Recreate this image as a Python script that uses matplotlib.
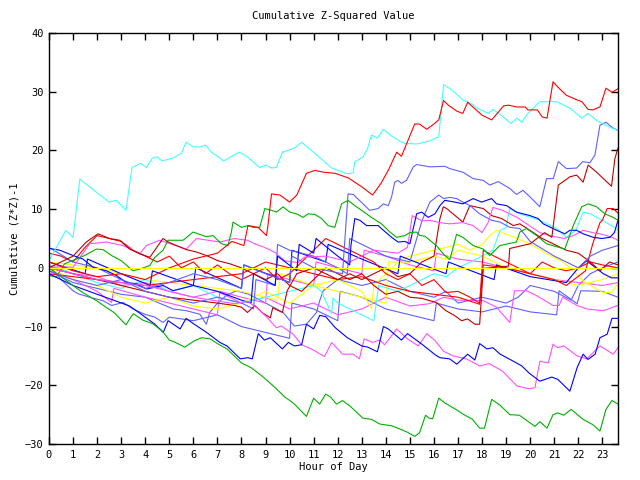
import matplotlib
matplotlib.use("Agg")
import matplotlib.pyplot as plt

# --- series (hour, cumulative value) ---
cyan_top_x = [0, 0.7, 1.0, 1.28, 2.5, 2.8, 3.2, 3.45, 3.8, 4.05, 4.3, 4.5, 4.7, 5.15, 5.5, 5.7, 6.0, 6.3, 6.5, 6.8, 6.95, 7.25, 7.6, 7.9,
              8.25, 8.75, 9.0, 9.25, 9.45, 9.7, 10.2, 10.5, 11.05, 11.75, 12.4, 12.65, 12.7, 13.05, 13.25, 13.4, 13.65, 13.9, 14.25,
              14.65, 14.8, 15.3, 15.8, 16.2, 16.4, 16.75, 17.2, 17.5, 17.8, 18.25, 18.45, 18.8, 19.2, 19.45, 19.65, 19.9, 20.4,
              20.7, 21.1, 21.65, 22.15, 22.4, 22.8, 23.1, 23.4, 23.65]
cyan_top_y = [1.2, 6.4, 5.2, 15.1, 11.2, 11.5, 9.8, 17.1, 17.8, 17.1, 18.7, 18.9, 18.2, 18.7, 19.5, 21.4, 20.6, 20.6, 20.9, 19.5, 19.2, 18.2, 19.0, 19.7,
              18.9, 17.1, 17.5, 17.0, 17.1, 19.7, 20.4, 21.4, 19.5, 17.0, 16.0, 16.2, 18.0, 18.9, 20.4, 22.6, 22.1, 23.6, 22.4,
              21.4, 21.2, 21.1, 21.6, 22.3, 31.2, 30.3, 28.6, 28.1, 27.2, 26.3, 27.0, 26.0, 24.6, 25.5, 24.8, 26.3, 28.3,
              28.3, 28.3, 27.2, 25.5, 26.3, 25.0, 24.4, 23.8, 23.4]

red_top_x = [0, 1, 2, 3, 4, 5, 6, 7, 7.6, 8.1, 8.27, 8.69, 9.04, 9.1, 9.25, 9.6, 10.0, 10.3, 10.7, 11.05, 11.4, 11.9, 12.45, 13.0, 13.45,
             13.8, 14.1, 14.45, 14.65, 15.2, 15.4, 15.7, 16.0, 16.2, 16.4, 16.6, 16.95, 17.2, 17.4, 18.0, 18.4, 18.9, 19.1, 19.45,
             19.8, 19.9, 20.3, 20.5, 20.7, 20.95, 21.15, 21.5, 21.95, 22.15, 22.4, 22.6, 22.9, 23.15, 23.4, 23.65]
red_top_y = [1.0, -0.5, -1.5, -1.0, -2.0, 0.0, 1.5, 2.5, 4.5, 3.8, 7.2, 6.9, 5.5, 7.2, 12.6, 12.4, 11.2, 12.4, 16.1, 16.6, 16.3, 16.1, 15.3, 13.8, 12.4,
             14.4, 16.6, 19.7, 19.0, 24.5, 24.5, 23.6, 24.5, 25.2, 28.5, 27.7, 26.7, 26.3, 28.2, 26.0, 25.2, 27.6, 27.7, 27.4,
             27.4, 26.9, 26.9, 25.7, 25.5, 31.7, 30.8, 29.4, 28.6, 28.3, 27.0, 26.9, 27.4, 30.6, 29.9, 30.5]

green_low_x = [0, 0.5, 1.0, 1.4, 1.98, 2.4, 2.7, 3.2, 3.5, 3.9, 4.3, 4.7, 5.0, 5.2, 5.65, 6.05, 6.35, 6.7, 7.0, 7.4, 7.7, 8.0, 8.4, 8.85,
               9.4, 9.8, 10.15, 10.7, 11.0, 11.25, 11.5, 11.7, 11.95, 12.2, 12.5, 13.05, 13.4, 13.75, 14.25, 14.5, 14.9, 15.2, 15.4,
               15.65, 15.8, 15.95, 16.2, 16.45, 16.95, 17.2, 17.6, 17.9, 18.1, 18.4, 18.75, 19.15, 19.55, 20.2, 20.4, 20.7, 20.95,
               21.15, 21.4, 21.7, 22.2, 22.6, 22.9, 23.15, 23.4, 23.65]
green_low_y = [0.0, -1.5, -3.0, -4.2, -5.6, -6.8, -7.6, -9.7, -7.8, -8.9, -9.5, -10.7, -12.3, -12.6, -13.5, -12.4, -11.9, -12.1, -12.9, -13.8, -15.0, -16.2, -17.0, -18.4,
               -20.4, -22.0, -23.0, -25.3, -22.2, -23.2, -21.5, -22.0, -23.2, -22.6, -23.5, -25.6, -25.8, -26.6, -26.9, -27.3, -28.0, -28.7, -28.1,
               -25.1, -25.6, -25.7, -22.2, -23.0, -24.2, -24.9, -25.8, -27.3, -27.3, -22.4, -23.4, -25.0, -25.1, -27.0, -26.2, -27.3, -25.0,
               -24.7, -25.1, -24.1, -25.8, -26.7, -27.8, -24.1, -22.6, -23.2]

green_up_x = [0, 0.03, 0.3, 0.65, 1.14, 1.48, 1.97, 2.25, 2.6, 3.01, 3.49, 3.77, 4.19, 4.4, 4.74, 4.95, 5.57, 5.99, 6.27, 6.54, 6.82,
              7.17, 7.44, 7.58, 7.65, 8.0, 8.27, 8.48, 8.76, 8.97, 9.25, 9.46, 9.73, 10.0, 10.29, 10.56, 10.77, 11.05, 11.33, 11.6,
              11.88, 12.16, 12.43, 12.71, 12.99, 13.4, 13.82, 14.17, 14.45, 14.79, 15.0, 15.28, 15.41, 15.62, 15.83, 16.1, 16.45,
              16.66, 16.94, 17.2, 17.63, 18.05, 18.32, 18.74, 19.43, 19.57, 19.85, 20.27, 20.68, 21.1, 21.44, 21.79, 22.14, 22.41,
              22.76, 23.1, 23.45, 23.65]
green_up_y = [-0.5, -1.3, -1.6, 0.7, 1.5, 2.1, 3.2, 3.1, 2.1, 1.2, -0.5, -0.2, 0.4, 1.8, 3.0, 4.7, 4.7, 6.1, 5.7, 5.3, 5.5,
              4.1, 3.8, 6.1, 7.8, 6.9, 7.2, 6.9, 6.9, 10.1, 9.8, 9.5, 10.4, 9.5, 9.2, 8.6, 9.2, 9.1, 8.4, 7.2,
              6.9, 10.9, 11.5, 10.6, 9.8, 8.6, 7.5, 6.1, 5.2, 5.5, 6.0, 6.1, 5.5, 5.4, 4.7, 3.8, 2.1,
              1.4, 5.7, 5.2, 3.8, 3.2, 2.1, 3.8, 4.4, 6.1, 6.7, 5.5, 4.1, 3.6, 3.2, 7.2, 10.4, 10.9,
              10.4, 9.2, 8.6, 8.1]

blue_low_x = [0, 1, 2, 2.95, 3.35, 3.8, 4.4, 4.75, 4.95, 5.45, 5.7, 6.0, 6.55, 7.1, 7.4, 7.95, 8.25, 8.45, 8.7, 8.95, 9.2, 9.7,
              9.95, 10.2, 10.5, 10.7, 11.0, 11.25, 11.5, 11.9, 12.4, 13.0, 13.25, 13.65, 13.9, 14.1, 14.65, 14.9, 15.5, 16.05,
              16.25, 16.65, 16.95, 17.4, 17.7, 17.9, 18.2, 18.45, 18.75, 19.3, 19.65, 19.95, 20.4, 20.9, 21.15, 21.65, 21.95,
              22.2, 22.4, 22.7, 22.9, 23.2, 23.4, 23.65]
blue_low_y = [-1.0, -3.0, -4.5, -5.9, -6.5, -7.8, -9.6, -11.0, -9.0, -10.4, -8.6, -9.5, -11.0, -12.7, -13.3, -15.5, -15.3, -15.5, -11.2, -12.3, -11.9, -13.8,
              -12.7, -13.3, -13.1, -9.6, -10.4, -8.1, -8.3, -10.2, -11.9, -13.3, -13.5, -14.3, -10.0, -10.4, -12.3, -11.2, -13.0, -14.8,
              -15.3, -15.5, -16.4, -14.7, -15.7, -12.9, -13.8, -13.6, -14.7, -15.9, -16.7, -17.9, -19.3, -18.6, -19.0, -21.0, -17.0,
              -14.7, -15.6, -14.7, -11.9, -11.3, -8.6, -8.6]

mag_low_x = [0, 2, 4, 6, 7.7, 8.25, 8.7, 9.1, 9.45, 9.65, 10.15, 10.5, 10.9, 11.45, 11.75, 12.2, 12.65, 12.9, 13.1, 13.45, 13.75,
             13.95, 14.45, 14.9, 15.35, 15.7, 16.05, 16.4, 16.8, 17.35, 17.9, 18.3, 18.85, 19.45, 19.95, 20.2, 20.4, 20.75,
             20.95, 21.15, 21.4, 21.95, 22.35, 22.9, 23.45, 23.65]
mag_low_y = [0.0, -2.0, -3.0, -5.0, -6.1, -5.7, -7.0, -8.6, -10.2, -9.9, -11.3, -13.1, -13.8, -15.1, -12.7, -14.7, -14.7, -15.5, -12.1, -12.7, -12.3,
             -13.1, -10.4, -12.1, -13.3, -11.2, -12.4, -14.2, -15.0, -15.5, -16.7, -16.3, -17.6, -20.1, -20.6, -20.4, -15.9, -16.2,
             -13.0, -13.6, -13.3, -15.0, -15.5, -13.3, -14.7, -13.6]

slate_top_x = [0, 1, 2, 3, 4, 5, 6, 7, 8, 8.1, 9, 10, 10.1, 11, 12.2, 12.43, 12.65, 12.9, 13.33, 13.68, 13.9, 14.1, 14.24, 14.37, 14.5, 14.65,
               14.86, 15.14, 15.28, 15.83, 16.45, 16.66, 17.2, 17.63, 18.05, 18.32, 18.67, 19.16, 19.43, 19.7, 19.99, 20.4,
               20.68, 20.96, 21.17, 21.51, 21.93, 22.18, 22.48, 22.69, 22.9, 23.15, 23.45, 23.65]
slate_top_y = [-0.5, -2.0, -3.0, -2.0, -3.5, -2.5, -1.0, -2.0, -3.5, 0.5, -1.0, -2.5, 2.0, 0.0, -1.0, 12.6, 12.5, 11.5, 9.8, 10.1, 10.9, 10.6, 12.1, 14.6, 14.9, 14.4,
               14.9, 17.2, 17.6, 17.2, 17.3, 16.9, 16.3, 15.2, 14.9, 14.1, 14.7, 13.5, 12.5, 13.2, 12.1, 10.4,
               15.2, 15.2, 18.1, 16.9, 17.0, 18.1, 17.9, 19.2, 24.3, 24.8, 23.8, 23.4]

blue_mid_x = [0.03, 0.45, 1.0, 1.41, 1.83, 2.39, 2.8, 3.22, 3.63, 4.05, 4.4, 4.74, 5.16, 6, 7, 8, 8.4, 8.5, 9.4, 9.5, 10.3, 10.4, 11,
              11.1, 12, 12.5, 12.55, 12.71, 12.92, 13.2, 13.68, 13.9, 14.24, 14.51, 14.79, 15.0, 15.14, 15.28, 15.49, 15.76, 16.04,
              16.25, 16.45, 16.87, 17.2, 17.63, 17.98, 18.4, 18.6, 19.02, 19.43, 19.99, 20.33, 20.54, 21.1, 21.44, 21.65, 21.93,
              22.2, 22.62, 22.97, 23.31, 23.5, 23.65]
blue_mid_y = [3.3, 3.0, 2.1, 1.5, 0.1, -0.5, -1.3, -2.5, -2.7, -3.6, -3.3, -3.0, -3.9, -3.0, -4.0, -5.5, -6.0, -1.0, -3.0, 2.0, -0.5, 4.0, 2.5,
              5.0, 2.0, 0.5, 3.8, 8.4, 8.1, 7.2, 7.2, 6.4, 5.2, 4.4, 4.5, 4.1, 6.7, 9.2, 9.5, 8.6, 9.2,
              10.6, 11.5, 11.2, 10.9, 11.8, 11.2, 11.8, 10.9, 10.6, 9.5, 8.9, 8.4, 7.5, 6.4, 5.8, 6.4, 6.4,
              5.8, 5.2, 5.0, 5.2, 6.0, 8.1]

blue_b_x = [0, 1.5, 1.6, 3, 4.2, 4.3, 6, 6.1, 8, 8.1, 10, 10.1, 11.5, 11.6, 13, 14.5, 14.6, 16.5, 16.6, 18.5, 18.6, 20, 21.5,
            22, 22.35, 23.04, 23.38, 23.65]
blue_b_y = [1.0, -1.0, 1.5, -1.0, -3.0, -0.5, -3.0, 0.0, -3.5, 0.5, -2.5, 3.0, 1.0, 4.0, 1.5, -1.0, 2.0, -1.0, 1.0, -2.0, 0.5, -1.5, -2.5,
            0.0, 1.2, -1.0, -1.7, -1.7]

slate_b_x = [0, 1, 2, 3, 4, 5, 6, 7, 8, 8.5, 8.6, 9.4, 9.5, 10, 11, 12, 12.4, 12.5, 13, 14, 15, 15.5, 15.83, 16.2, 16.4, 16.66,
             16.94, 17.2, 17.5, 17.9, 18.4, 18.74, 19.16, 19.57, 20, 21, 21.5, 22, 22.5, 23, 23.65]
slate_b_y = [3.5, 1.0, 0.0, -2.0, -4.0, -5.0, -6.0, -5.0, -6.0, -7.0, -2.0, -3.0, 4.0, 3.0, 2.0, 0.0, -1.0, 5.0, 4.0, 2.0, 1.0, 8.0, 11.2, 12.4, 11.8, 12.0,
             11.8, 11.2, 10.6, 9.2, 8.1, 7.8, 6.9, 6.7, 4.5, 2.0, 1.0, 0.0, 2.0, 3.0, 3.8]

slate_c_x = [0, 1, 2, 3, 4, 5.16, 5.71, 6.27, 6.54, 6.68, 6.96, 7.37, 7.79, 8.3, 9.1, 9.73, 10.2, 10.7, 11.12, 11.25, 11.4, 12, 13,
             14, 15, 16, 16.5, 17, 18, 19, 19.5, 20, 21, 21.7, 22, 22.5, 23, 23.65]
slate_c_y = [-0.5, -2.5, -3.5, -4.5, -5.0, -7.0, -7.3, -7.9, -9.6, -7.6, -6.2, -4.7, -3.9, -4.5, -6.2, -7.6, -9.9, -9.6, -7.6, -5.6, -3.9, -2.0, -3.0,
             -2.0, -4.0, -5.0, -4.0, -6.0, -5.0, -6.0, -5.0, -3.0, -4.0, -5.5, -3.0, -1.0, 0.0, 1.0]

slate_d_x = [0, 0.5, 1.0, 1.2, 1.69, 2.25, 2.6, 3.08, 3.49, 3.98, 4.4, 4.74, 5.0, 6, 7, 8, 9, 10, 10.1, 11, 12, 12.1, 13, 14, 15,
             16, 16.1, 17, 18, 19, 20, 21.1, 21.2, 21.95, 22.1, 23, 23.65]
slate_d_y = [0.5, -2.0, -3.9, -4.4, -5.0, -5.6, -6.4, -5.9, -7.0, -7.9, -8.4, -9.3, -8.4, -9.0, -8.0, -10.0, -11.0, -12.0, -6.0, -7.0, -9.0, -4.0, -5.0, -7.0, -8.0,
             -9.0, -6.0, -7.0, -7.5, -6.5, -7.5, -8.0, -3.9, -6.1, -3.9, -4.0, -5.0]

mag_up_x = [0, 0.5, 1.0, 1.69, 2.39, 3.08, 3.77, 4.05, 4.6, 5.71, 6.13, 7.1, 7.7, 8.25, 8.55, 8.95, 9.4, 9.8, 10.35, 10.6, 11.5,
            12.5, 13.5, 14.5, 14.9, 15.1, 15.5, 15.83, 16.25, 16.66, 17.2, 17.63, 18.0, 18.25, 18.45, 18.85, 19.15, 19.45,
            20.4, 20.8, 21.4, 21.8, 22.2, 22.6, 23.0, 23.4, 23.65]
mag_up_y = [0.0, 0.2, 0.1, 4.1, 4.4, 3.8, 2.4, 3.8, 4.7, 3.2, 5.0, 4.4, 5.0, 4.7, 4.1, 3.5, 2.6, 1.2, 0.9, 1.8, 2.0,
            1.0, 3.0, 2.5, 3.5, 8.9, 8.0, 8.1, 7.7, 7.5, 7.7, 7.2, 6.0, 7.7, 10.3, 9.8, 9.2, 8.6,
            6.0, 5.5, 5.0, 5.5, 6.4, 6.0, 5.7, 5.2, 4.7]

mag_mid_x = [0, 1, 2, 3, 4, 5, 6, 7, 8, 9, 10, 11, 12, 13, 14, 15, 15.83, 16.4, 17, 18.05, 18.6, 19.15, 19.35, 19.85, 20.25,
             20.95, 21.2, 21.35, 21.95, 22.35, 23.04, 23.65]
mag_mid_y = [0.5, -1.0, -1.5, -3.0, -2.5, -4.0, -5.0, -4.0, -6.0, -5.0, -7.0, -6.0, -8.0, -7.0, -5.0, -6.5, -6.1, -5.0, -5.5, -5.6, -6.7, -9.3, -3.9, -3.9, -4.7,
             -6.4, -6.4, -5.0, -6.4, -7.0, -7.3, -6.4]

mag_c_x = [0, 1, 2, 2.6, 2.7, 4, 5, 6, 7, 7.1, 8, 9, 9.1, 10, 11, 11.1, 12, 13, 13.1, 14, 15, 16, 16.1, 17, 18, 19, 20, 21, 22,
           23, 23.65]
mag_c_y = [-0.5, -2.0, -4.0, -5.9, -3.5, -5.0, -6.0, -7.0, -8.0, -4.0, -5.0, -6.0, -1.0, -2.0, -3.0, 1.0, 0.0, -1.0, 3.0, 2.0, 0.5, -0.5, 2.5, 1.5, 1.0, 0.0,
           -1.0, -2.0, -2.5, -3.0, -2.5]

cyan_low_x = [0, 1, 2, 3, 4, 5, 6, 7, 8, 9, 10, 11, 11.3, 11.75, 11.8, 12, 13, 13.5, 13.7, 14.5, 15.5, 16, 16.5, 17, 17.5, 18,
              18.45, 18.75, 19.0, 19.15, 19.57, 20.4, 21.1, 21.5, 21.9, 22.2, 22.5, 23.0, 23.5, 23.65]
cyan_low_y = [0.5, -1.0, -2.5, -3.5, -2.0, -4.0, -3.0, -5.0, -6.0, -5.0, -4.0, -3.0, -3.9, -7.8, -5.1, -6.0, -8.0, -9.0, -3.0, -4.0, -2.0, -1.0, -1.5, 0.0, 1.0, 2.0,
              3.0, 6.4, 6.9, 10.1, 9.2, 8.1, 6.7, 5.2, 6.4, 9.5, 9.2, 8.1, 6.9, 6.4]

yellow_flat_x = [0, 23.65]
yellow_flat_y = [0.0, 0.0]

yellow_a_x = [0, 1, 2, 3, 4, 5, 6, 7, 8, 9, 10, 11, 12, 13, 13.4, 13.5, 14, 14.5, 15, 16, 17, 17.5, 18.0, 18.32, 18.6,
              19.15, 19.99, 20.82, 21.3, 21.79, 22.2, 22.62, 23.04, 23.38, 23.65]
yellow_a_y = [0.0, -2.0, -3.0, -5.0, -6.0, -5.0, -6.5, -7.0, -6.0, -4.0, -6.0, -3.0, -2.0, -4.0, -7.0, -3.0, -1.0, 1.0, 2.0, 3.0, 4.0, 3.0, 4.0, 5.5, 6.4,
              5.5, 4.1, 2.1, 1.2, -0.5, -2.2, -3.3, -4.2, -4.2, -2.7]

yellow_b_x = [0, 2, 4, 6, 8, 9.5, 9.6, 11, 12, 14, 14.1, 15, 16, 16.5, 17, 18, 19, 20, 21, 22, 23, 23.65]
yellow_b_y = [1.0, 0.0, -2.0, -3.0, -4.0, -5.5, -1.0, -3.0, -4.0, -6.0, 1.0, 1.0, 2.0, 1.5, 3.0, 2.0, 0.0, -1.0, -2.0, -3.0, -2.0, -1.0]

dred_hump_x = [0, 1, 1.55, 2.04, 2.52, 2.94, 3.35, 3.77, 4.19, 4.74, 4.95, 5.71, 6.13, 6.54, 7.03, 7.51, 7.93, 8.5, 9, 9.5, 10,
               10.5, 11, 11.5, 12, 12.5, 13, 13.5, 14, 14.5, 15, 15.5, 15.83, 16.1, 16.5, 16.85, 17.15, 17.4, 17.7, 17.9, 18.05,
               19.1, 19.15, 20.0, 20.6, 20.9, 21.17, 21.65, 21.93, 22.2, 22.41, 22.76, 23.04, 23.38, 23.52, 23.65]
dred_hump_y = [0.0, 2.0, 4.4, 5.8, 5.0, 4.7, 3.2, 2.4, 1.8, 5.0, 4.4, 3.1, 2.7, 2.1, 1.2, 0.7, 0.1, -1.0, -2.0, -1.0, -3.0,
               -4.0, -2.0, 0.0, -1.0, -2.0, -1.0, -3.0, -4.5, -4.0, -5.0, -5.2, -5.6, -5.9, -7.3, -8.1, -9.0, -8.7, -9.6, -9.6, -0.1,
               0.3, 3.3, 4.1, 6.0, 5.2, 14.1, 15.5, 15.8, 14.6, 17.5, 16.3, 15.2, 13.9, 18.6, 20.4]

dred_c_x = [0, 1, 2, 3, 4, 5, 6, 7, 7.7, 8.0, 8.25, 8.55, 8.85, 9.2, 9.3, 9.7, 9.9, 10.3, 11, 11.5, 12, 12.5, 13, 13.5, 14,
            14.5, 15, 15.5, 16.0, 16.25, 16.39, 16.53, 17.2, 17.49, 18.05, 18.4, 18.81, 19.3, 19.57, 19.99, 20.5, 21, 21.5,
            22, 22.5, 22.9, 23.3, 23.65]
dred_c_y = [0.0, -1.0, -2.0, -3.0, -4.0, -5.0, -5.5, -6.0, -6.4, -6.7, -7.6, -6.4, -7.6, -8.5, -6.8, -7.6, -3.9, -1.0, 0.0, -1.0, -2.0, -1.0, -2.0, -1.0, 0.0,
            -1.5, -1.0, 1.0, 2.0, 8.4, 10.4, 10.1, 7.8, 10.6, 10.1, 8.9, 8.4, 7.2, 7.5, 6.4, 5.0, 4.0, 3.0,
            2.5, 1.0, -0.5, 1.0, 0.5]

red_c_x = [0, 0.5, 1, 1.5, 2, 2.5, 3, 3.5, 4, 4.5, 5, 5.5, 6, 6.5, 7, 7.5, 8, 8.5, 9, 9.5, 10, 10.5, 11, 11.5, 12, 12.5, 13,
           13.5, 14, 14.5, 15, 15.5, 16, 16.5, 17, 17.5, 17.9, 18.05, 18.5, 19, 19.5, 20, 20.5, 21, 21.5, 22, 22.5, 23, 23.65]
red_c_y = [2.5, 2.0, 1.0, 3.5, 5.5, 5.0, 4.5, 3.0, 2.0, 1.0, 2.0, 0.0, 1.0, -1.0, 0.5, -1.0, -2.0, -1.0, 0.0, -2.0, -1.0, 1.0, 3.0, 5.0, 4.0, 3.0, 2.0,
           1.0, -1.0, -2.0, -1.0, -3.0, -2.0, -4.2, -4.0, -5.0, -6.0, 3.0, 2.0, 1.0, 0.0, -1.0, 1.0, 0.0, -0.5, 0.0, 1.0, 0.5, 0.0]

red_b_x = [0, 2, 4, 6, 8, 9, 10, 11, 12, 13, 14, 15, 16, 17, 17.9, 18.05, 19, 20, 21, 21.5, 22.3, 22.6, 22.9, 23.0, 23.2,
           23.45, 23.65]
red_b_y = [-1.0, -2.0, -3.0, -2.0, -1.0, 1.0, 0.0, -1.0, -2.0, -1.5, -3.0, -4.0, -4.5, -5.0, -6.2, 0.5, 0.0, -1.0, -2.0, -3.0, -0.5, 4.1, 7.7, 8.1, 10.1,
           10.1, 9.3]

x_ticks = list(range(0, 24))
y_ticks = list(range(-30, 41, 10))

RED, GREEN, BLUE, MAG = '#ff0000', '#00b000', '#0000ff', '#ff50ff'
CYAN, DRED, YEL, SLATE = '#40ffff', '#c00000', '#ffff00', '#6060ff'

series = [
    (slate_c_x, slate_c_y, SLATE), (slate_d_x, slate_d_y, SLATE), (mag_c_x, mag_c_y, MAG),
    (mag_mid_x, mag_mid_y, MAG), (yellow_b_x, yellow_b_y, YEL), (yellow_a_x, yellow_a_y, YEL),
    (cyan_low_x, cyan_low_y, CYAN), (blue_b_x, blue_b_y, BLUE), (red_b_x, red_b_y, RED),
    (red_c_x, red_c_y, RED), (dred_c_x, dred_c_y, DRED), (slate_b_x, slate_b_y, SLATE),
    (mag_up_x, mag_up_y, MAG), (blue_mid_x, blue_mid_y, BLUE), (green_up_x, green_up_y, GREEN),
    (dred_hump_x, dred_hump_y, DRED), (mag_low_x, mag_low_y, MAG), (blue_low_x, blue_low_y, BLUE),
    (green_low_x, green_low_y, GREEN), (slate_top_x, slate_top_y, SLATE), (cyan_top_x, cyan_top_y, CYAN),
    (red_top_x, red_top_y, RED), (yellow_flat_x, yellow_flat_y, YEL),
]

plt.rcParams['font.family'] = ['DejaVu Sans Mono']
fig = plt.figure(figsize=(6.4, 4.8), dpi=100)
ax = fig.add_axes([49 / 640, 1 - 444 / 480, (618 - 49) / 640, (444 - 33) / 480])

for xs, ys, col in series:
    ax.plot(xs, ys, color=col, lw=0.8)

ax.set_xlim(0, 23.65)
ax.set_ylim(-30, 40)
ax.set_xticks(x_ticks)
ax.set_yticks(y_ticks)
ax.tick_params(direction='in', length=5, width=1, labelsize=7.5, top=True, right=True, pad=4)
for s in ax.spines.values():
    s.set_linewidth(1)

ax.set_title('Cumulative Z-Squared Value', fontsize=7.5, pad=10)
ax.set_xlabel('Hour of Day', fontsize=7.5, labelpad=2)
ax.set_ylabel('Cumulative (Z*Z)-1', fontsize=7.5, labelpad=4)

fig.savefig('out.png', dpi=100, facecolor='white')
